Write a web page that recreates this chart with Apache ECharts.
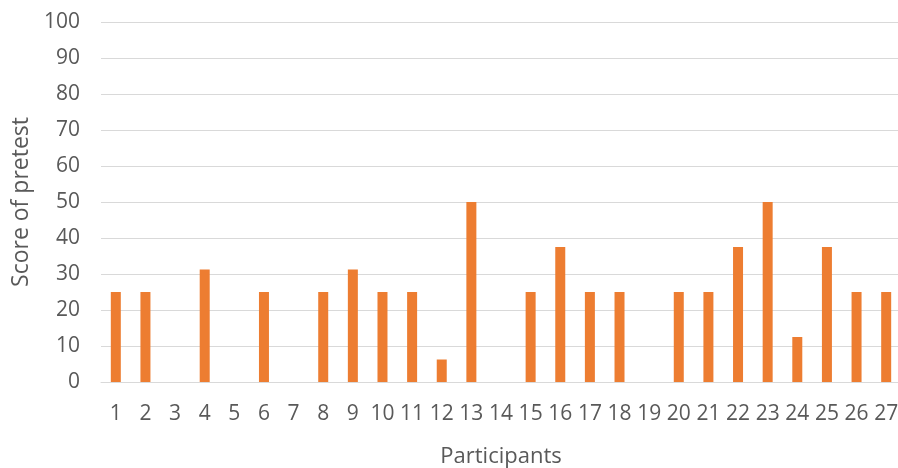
<!DOCTYPE html>
<html><head><meta charset="utf-8">
<script src="https://cdn.jsdelivr.net/npm/echarts@6/dist/echarts.min.js"></script>
<style>html,body{margin:0;padding:0;background:#fff}#c{width:898px;height:468px}</style>
</head><body><div id="c"></div>
<script>
const categories = ['1','2','3','4','5','6','7','8','9','10','11','12','13','14','15','16','17','18','19','20','21','22','23','24','25','26','27'];
const scores = [25,25,0,31.25,0,25,0,25,31.25,25,25,6.25,50,0,25,37.5,25,25,0,25,25,37.5,50,12.5,37.5,25,25];
const yTicks = [0,10,20,30,40,50,60,70,80,90,100];

const chart = echarts.init(document.getElementById('c'));
const font = '"Open Sans", "DejaVu Sans", sans-serif';
chart.setOption({
  animation:false,
  grid:{left:101, top:22, width:800, height:360, containLabel:false, outerBoundsMode:'none'},
  xAxis:{
    type:'category', data:categories,
    name:'Participants', nameLocation:'middle', nameGap:64,
    nameTextStyle:{color:'#595959', fontSize:22, fontFamily:font},
    axisLine:{lineStyle:{color:'#d9d9d9'}},
    axisTick:{show:false},
    axisLabel:{color:'#595959', fontSize:21, fontFamily:font, margin:22, interval:0}
  },
  yAxis:{
    type:'value', min:yTicks[0], max:yTicks[yTicks.length-1], interval:10,
    name:'Score of pretest', nameLocation:'middle', nameGap:68,
    nameTextStyle:{color:'#595959', fontSize:23, fontFamily:font},
    axisLine:{show:false}, axisTick:{show:false},
    splitLine:{lineStyle:{color:'#d9d9d9', width:1}},
    axisLabel:{color:'#595959', fontSize:21, fontFamily:font, margin:21}
  },
  series:[{type:'bar', data:scores, barWidth:10, itemStyle:{color:'#ED7D31'}}]
});
</script></body></html>
